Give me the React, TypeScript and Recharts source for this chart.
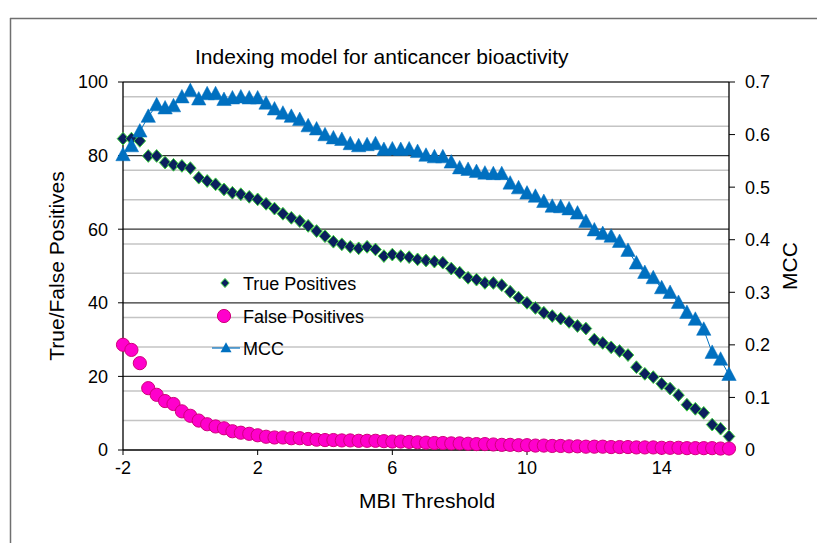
import React from 'react';
import { ComposedChart, Line, XAxis, YAxis, CartesianGrid, Legend } from 'recharts';

const thresholds = [
  -2, -1.75, -1.5, -1.25, -1, -0.75, -0.5, -0.25, 0, 0.25, 0.5, 0.75, 1, 1.25, 1.5, 1.75, 2, 2.25, 2.5,
  2.75, 3, 3.25, 3.5, 3.75, 4, 4.25, 4.5, 4.75, 5, 5.25, 5.5, 5.75, 6, 6.25, 6.5, 6.75, 7,
  7.25, 7.5, 7.75, 8, 8.25, 8.5, 8.75, 9, 9.25, 9.5, 9.75, 10, 10.25, 10.5, 10.75, 11, 11.25, 11.5,
  11.75, 12, 12.25, 12.5, 12.75, 13, 13.25, 13.5, 13.75, 14, 14.25, 14.5, 14.75, 15, 15.25, 15.5, 15.75, 16,
];

const truePositives = [
  84.6, 84.6, 84.0, 79.9, 79.9, 78.1, 77.5, 77.2, 76.6, 74.0, 73.1, 72.2, 70.8, 69.9, 69.5, 68.8, 68.1, 66.9, 65.6,
  64.2, 63.1, 62.2, 60.9, 59.5, 58.1, 56.6, 55.9, 55.2, 54.8, 55.2, 54.5, 52.7, 53.1, 52.7, 52.4, 51.8, 51.5,
  51.2, 50.9, 49.3, 48.2, 46.8, 46.3, 45.4, 45.4, 44.8, 43.0, 41.4, 40.0, 38.6, 37.3, 36.4, 35.7, 34.8, 33.7,
  33.0, 30.0, 29.1, 27.9, 26.9, 25.8, 22.5, 20.7, 19.8, 18.0, 16.7, 14.9, 12.3, 11.2, 10.1, 6.9, 5.8, 3.7,
];

const falsePositives = [
  28.6, 27.2, 23.6, 16.8, 15.0, 13.3, 12.5, 10.5, 9.3, 8.0, 7.0, 6.4, 5.9, 5.1, 4.7, 4.4, 4.0, 3.6, 3.4,
  3.4, 3.2, 3.2, 3.0, 2.8, 2.7, 2.7, 2.6, 2.6, 2.5, 2.5, 2.5, 2.4, 2.3, 2.3, 2.2, 2.1, 2.0,
  1.9, 1.9, 1.8, 1.8, 1.7, 1.6, 1.6, 1.5, 1.4, 1.4, 1.3, 1.3, 1.2, 1.2, 1.1, 1.1, 1.0, 1.0,
  0.9, 0.9, 0.9, 0.8, 0.8, 0.8, 0.7, 0.7, 0.7, 0.6, 0.6, 0.6, 0.5, 0.5, 0.5, 0.5, 0.4, 0.4,
];

const mccValues = [
  0.561, 0.578, 0.606, 0.634, 0.656, 0.650, 0.654, 0.671, 0.683, 0.667, 0.677, 0.677, 0.666, 0.669, 0.671, 0.669, 0.669, 0.659, 0.648,
  0.640, 0.634, 0.628, 0.616, 0.610, 0.599, 0.593, 0.590, 0.582, 0.578, 0.580, 0.582, 0.571, 0.572, 0.571, 0.572, 0.567, 0.560,
  0.557, 0.557, 0.547, 0.536, 0.533, 0.529, 0.526, 0.525, 0.525, 0.507, 0.498, 0.488, 0.482, 0.472, 0.463, 0.462, 0.458, 0.450,
  0.434, 0.418, 0.411, 0.406, 0.396, 0.379, 0.355, 0.337, 0.327, 0.308, 0.299, 0.280, 0.261, 0.248, 0.229, 0.185, 0.172, 0.143,
];

const xTicks = [-2, 2, 6, 10, 14];
const leftTicks = [0, 20, 40, 60, 80, 100];
const rightTicks = [0, 0.1, 0.2, 0.3, 0.4, 0.5, 0.6, 0.7];
const minorGrid = [4, 8, 12, 16, 24, 28, 32, 36, 44, 48, 52, 56, 64, 68, 72, 76, 84, 88, 92, 96];
const majorGrid = [20, 40, 60, 80, 100];

const chartTitle = 'Indexing model for anticancer bioactivity';
const xTitle = 'MBI Threshold';
const leftTitle = 'True/False Positives';
const rightTitle = 'MCC';
const seriesNames = ['True Positives', 'False Positives', 'MCC'];

const data = thresholds.map((x, i) => ({
  x,
  tp: truePositives[i],
  fp: falsePositives[i],
  mcc: mccValues[i],
}));

const FONT = "'Liberation Sans', Arial, sans-serif";
const TP_FILL = '#0b1f5e';
const TP_STROKE = '#3fd23f';
const FP_FILL = '#ff00cc';
const FP_STROKE = '#d0007a';
const MCC_COLOR = '#0070c0';

const diamondPts = (cx: number, cy: number, w: number, h: number) =>
  `${cx},${cy - h} ${cx + w},${cy} ${cx},${cy + h} ${cx - w},${cy}`;
const trianglePts = (cx: number, cy: number, w: number, h: number) =>
  `${cx},${cy - h * 0.58} ${cx + w},${cy + h * 0.42} ${cx - w},${cy + h * 0.42}`;

const DiamondDot = (p: any) => {
  const { cx, cy, index } = p;
  if (cx == null || cy == null) return <g key={`d-${index}`} />;
  return (
    <polygon key={`d-${index}`} points={diamondPts(cx, cy, 5.8, 6.4)} fill={TP_FILL} stroke={TP_STROKE} strokeWidth={1} />
  );
};

const CircleDot = (p: any) => {
  const { cx, cy, index } = p;
  if (cx == null || cy == null) return <g key={`c-${index}`} />;
  return <circle key={`c-${index}`} cx={cx} cy={cy} r={6.6} fill={FP_FILL} stroke={FP_STROKE} strokeWidth={1} />;
};

const TriangleDot = (p: any) => {
  const { cx, cy, index } = p;
  if (cx == null || cy == null) return <g key={`t-${index}`} />;
  return <polygon key={`t-${index}`} points={trianglePts(cx, cy, 7.2, 13.5)} fill={MCC_COLOR} stroke={MCC_COLOR} strokeWidth={0.5} />;
};

const LegendContent = () => (
  <svg width={220} height={100} style={{ display: 'block', overflow: 'visible' }}>
    <polygon points={diamondPts(25, 18, 4.2, 4.6)} fill={TP_FILL} stroke={TP_STROKE} strokeWidth={1} />
    <text x={43} y={24.5} fontFamily={FONT} fontSize={18} fill="#000">{seriesNames[0]}</text>
    <circle cx={24} cy={51} r={6.6} fill={FP_FILL} stroke={FP_STROKE} strokeWidth={1} />
    <text x={43} y={57.5} fontFamily={FONT} fontSize={18} fill="#000">{seriesNames[1]}</text>
    <line x1={12} y1={83} x2={40} y2={83} stroke={MCC_COLOR} strokeWidth={1.2} />
    <polygon points={trianglePts(26, 83, 5.5, 10)} fill={MCC_COLOR} />
    <text x={43} y={89.5} fontFamily={FONT} fontSize={18} fill="#000">{seriesNames[2]}</text>
  </svg>
);

export default function App() {
  return (
    <div style={{ position: 'absolute', left: 0, top: 0, width: 817, height: 543, background: '#fff' }}>
      <svg width={817} height={543} style={{ position: 'absolute', left: 0, top: 0 }}>
        <line x1={10} y1={18.5} x2={817} y2={18.5} stroke="#6f6f6f" strokeWidth={1.5} />
        <line x1={10.5} y1={18} x2={10.5} y2={543} stroke="#6f6f6f" strokeWidth={1.5} />
        <text x={195} y={64} fontFamily={FONT} fontSize={21} fill="#000">{chartTitle}</text>
        <text x={427} y={508} fontFamily={FONT} fontSize={21} fill="#000" textAnchor="middle">{xTitle}</text>
        <text transform="translate(64,266) rotate(-90)" fontFamily={FONT} fontSize={21} fill="#000" textAnchor="middle">{leftTitle}</text>
        <text transform="translate(797,266) rotate(-90)" fontFamily={FONT} fontSize={21} fill="#000" textAnchor="middle">{rightTitle}</text>
      </svg>
      <div style={{ position: 'absolute', left: 0, top: 0 }}>
        <ComposedChart width={817} height={543} data={data} margin={{ top: 82, right: 0, bottom: 0, left: 0 }}>
          <CartesianGrid yAxisId="left" vertical={false} horizontalValues={minorGrid} stroke="#c4c4c4" strokeWidth={1.5} />
          <CartesianGrid yAxisId="left" vertical={false} horizontalValues={majorGrid} stroke="#333" strokeWidth={1.3} />
          <XAxis
            dataKey="x"
            type="number"
            domain={[-2, 16]}
            ticks={xTicks}
            height={93}
            axisLine={{ stroke: '#000', strokeWidth: 1.3 }}
            tickLine={{ stroke: '#000' }}
            tickSize={5}
            tickMargin={6}
            tick={{ fontFamily: FONT, fontSize: 18, fill: '#000' }}
          />
          <YAxis
            yAxisId="left"
            domain={[0, 100]}
            ticks={leftTicks}
            width={123}
            axisLine={{ stroke: '#000', strokeWidth: 1.3 }}
            tickLine={{ stroke: '#000' }}
            tickSize={5}
            tickMargin={10}
            tick={{ fontFamily: FONT, fontSize: 18, fill: '#000' }}
          />
          <YAxis
            yAxisId="right"
            orientation="right"
            domain={[0, 0.7]}
            ticks={rightTicks}
            width={88}
            axisLine={{ stroke: '#000', strokeWidth: 1.3 }}
            tickLine={{ stroke: '#000' }}
            tickSize={6}
            tickMargin={10}
            tick={{ fontFamily: FONT, fontSize: 18, fill: '#000' }}
          />
          <Legend
            layout="vertical"
            align="center"
            verticalAlign="middle"
            content={LegendContent}
            wrapperStyle={{ left: 200, top: 265, width: 220, height: 100 }}
          />
          <Line yAxisId="left" dataKey="tp" name={seriesNames[0]} stroke="none" dot={DiamondDot} activeDot={false} isAnimationActive={false} legendType="diamond" />
          <Line yAxisId="left" dataKey="fp" name={seriesNames[1]} stroke="none" dot={CircleDot} activeDot={false} isAnimationActive={false} legendType="circle" />
          <Line yAxisId="right" dataKey="mcc" name={seriesNames[2]} stroke={MCC_COLOR} strokeWidth={1} dot={TriangleDot} activeDot={false} isAnimationActive={false} legendType="triangle" />
        </ComposedChart>
      </div>
    </div>
  );
}
